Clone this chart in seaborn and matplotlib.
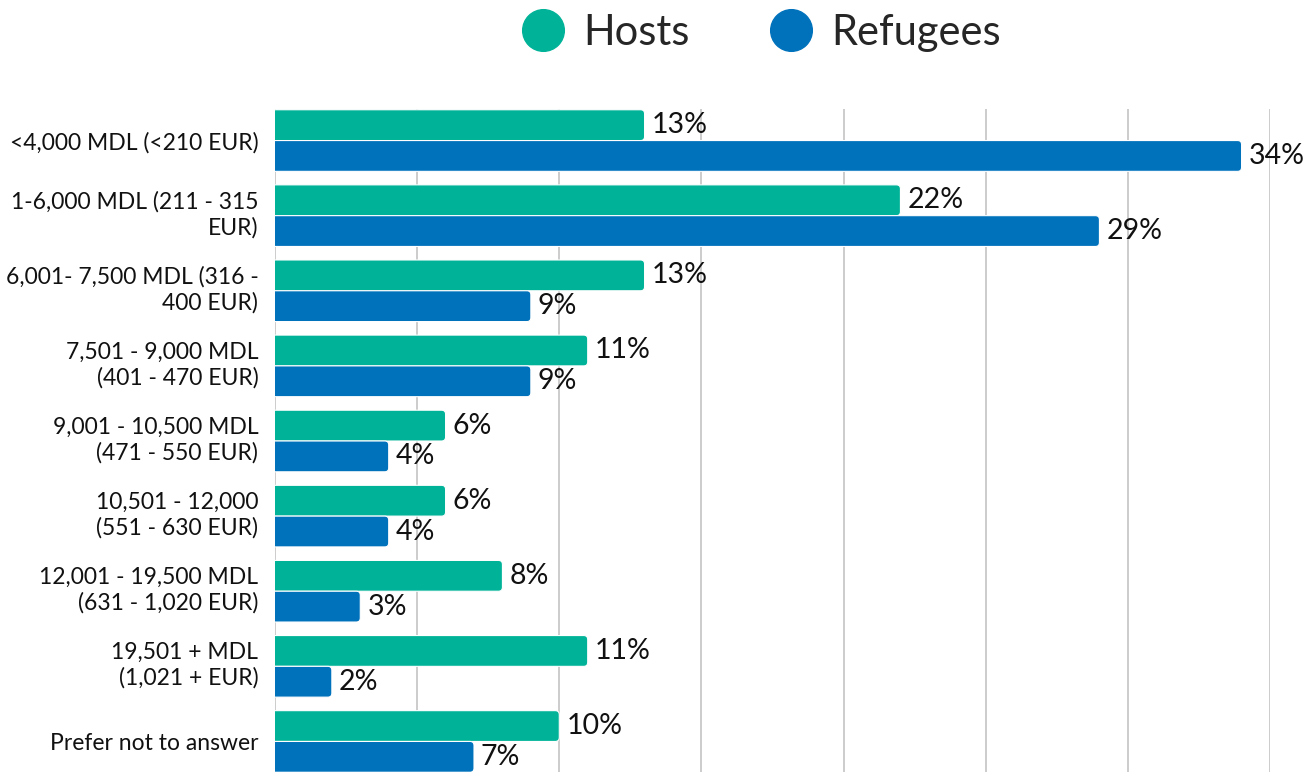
import matplotlib
matplotlib.use("Agg")
import matplotlib.pyplot as plt
import matplotlib.transforms as mtransforms
from matplotlib.patches import FancyBboxPatch
from matplotlib.lines import Line2D
import seaborn as sns
import pandas as pd

# Monthly household income brackets and the share of respondents in each
brackets = [
    "<4,000 MDL (<210 EUR)",
    "1-6,000 MDL (211 - 315\nEUR)",
    "6,001- 7,500 MDL (316 -\n400 EUR)",
    "7,501 - 9,000 MDL\n(401 - 470 EUR)",
    "9,001 - 10,500 MDL\n(471 - 550 EUR)",
    "10,501 - 12,000\n(551 - 630 EUR)",
    "12,001 - 19,500 MDL\n(631 - 1,020 EUR)",
    "19,501 + MDL\n(1,021 + EUR)",
    "Prefer not to answer",
]
hosts = [13, 22, 13, 11, 6, 6, 8, 11, 10]
refugees = [34, 29, 9, 9, 4, 4, 3, 2, 7]
groups = ["Hosts", "Refugees"]
colors = {"Hosts": "#00B398", "Refugees": "#0072BC"}

df = pd.DataFrame({
    "bracket": brackets * 2,
    "share": hosts + refugees,
    "group": ["Hosts"] * len(brackets) + ["Refugees"] * len(brackets),
})

sns.set_theme(style="white")
plt.rcParams["font.family"] = ["Lato", "DejaVu Sans"]

W, H = 1315, 772
fig = plt.figure(figsize=(W / 100, H / 100), dpi=100)
ax_left, ax_right, ax_top, ax_bottom = 275, 1270, 109, 773
ax = fig.add_axes([ax_left / W, 1 - ax_bottom / H,
                   (ax_right - ax_left) / W, (ax_bottom - ax_top) / H])

sns.barplot(data=df, y="bracket", x="share", hue="group", order=brackets,
            hue_order=groups, palette=colors, orient="h", width=0.82,
            saturation=1, dodge=True, legend=False, ax=ax)

ax.set_xlim(0, 35)
ax.set_ylim(8.42, -0.42)

# swap plain rectangles for bars with rounded outer ends
px_x = (ax_right - ax_left) / 35.0
px_y = (ax_bottom - ax_top) / (8.42 + 0.42)
aspect = px_x / px_y
radius = 4.0 / px_x
ext = 0.4
rects = list(ax.patches)
for rect in rects:
    x, y = rect.get_x(), rect.get_y()
    w, h = rect.get_width(), rect.get_height()
    fc = rect.get_facecolor()
    rect.remove()
    patch = FancyBboxPatch((x - ext, y), w + ext, h,
                           boxstyle=f"round,pad=0,rounding_size={radius}",
                           mutation_aspect=aspect, facecolor=fc,
                           edgecolor="white", linewidth=0.8, zorder=2)
    ax.add_patch(patch)
    ax.text(w + 7 / px_x, y + h / 2, f"{w:.0f}%", va="center", ha="left",
            fontsize=20.5, color="#111111", zorder=3, clip_on=False)

ax.set_xticks(range(0, 36, 5))
ax.set_xticklabels([])
ax.tick_params(axis="x", length=0)
ax.tick_params(axis="y", length=0, pad=12, labelsize=16.5, labelcolor="#111111")
ax.grid(axis="x", color="#C8C8C8", linewidth=1.3, zorder=0)
ax.grid(axis="y", visible=False)
ax.set_axisbelow(True)
for s in ax.spines.values():
    s.set_visible(False)
ax.set_xlabel("")
ax.set_ylabel("")

# two-line category labels sit slightly above the group centre
lift = mtransforms.ScaledTranslation(0, 5 / 100, fig.dpi_scale_trans)
for lab in ax.get_yticklabels():
    lab.set_linespacing(1.25)
    if "\n" in lab.get_text():
        lab.set_transform(lab.get_transform() + lift)

handles = [Line2D([], [], marker="o", linestyle="none", markersize=30,
                  markerfacecolor=colors[g], markeredgecolor=colors[g])
           for g in groups]
fig.legend(handles, groups, loc="center", bbox_to_anchor=(761 / W, 1 - 33 / H),
           ncol=2, frameon=False, fontsize=30, handlelength=1.05,
           handletextpad=0.45, columnspacing=1.9)

fig.savefig("out.png", dpi=100)
